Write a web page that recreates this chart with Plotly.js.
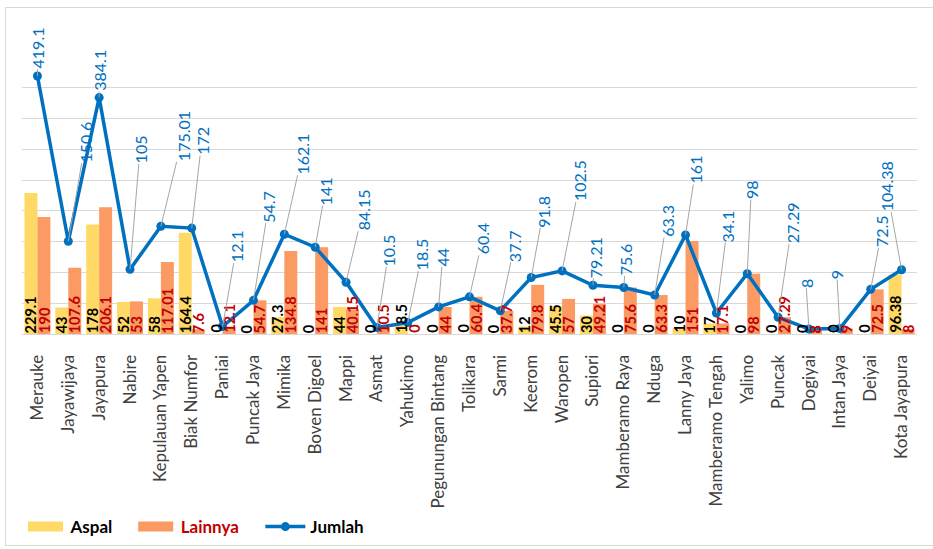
<!DOCTYPE html>
<html>
<head>
<meta charset="utf-8">
<script src="https://cdn.plot.ly/plotly-3.0.1.min.js"></script>
<style>
  html, body { margin: 0; padding: 0; background: #fff; }
  #wrap { position: relative; width: 933px; height: 549px; }
  #chart { position: absolute; left: 0; top: 0; width: 933px; height: 549px; }
  #frame { position: absolute; left: 5px; top: 7px; width: 935px; height: 537px; border: 1px solid #d9d9d9; pointer-events: none; }
</style>
</head>
<body>
<div id="wrap">
  <div id="chart"></div>
  <div id="frame"></div>
</div>
<script>
// ---- data ----
const categories = ["Merauke", "Jayawijaya", "Jayapura", "Nabire", "Kepulauan Yapen", "Biak Numfor",
  "Paniai", "Puncak Jaya", "Mimika", "Boven Digoel", "Mappi", "Asmat", "Yahukimo",
  "Pegunungan Bintang", "Tolikara", "Sarmi", "Keerom", "Waropen", "Supiori", "Mamberamo Raya",
  "Nduga", "Lanny Jaya", "Mamberamo Tengah", "Yalimo", "Puncak", "Dogiyai", "Intan Jaya",
  "Deiyai", "Kota Jayapura"];

const aspal = [229.1, 43, 178, 52, 58, 164.4, 0, 0, 27.3, 0, 44, 0, 18.5, 0, 0, 0, 12, 45.5,
  30, 0, 0, 10, 17, 0, 0, 0, 0, 0, 96.38];

const lainnya = [190, 107.6, 206.1, 53, 117.01, 7.6, 12.1, 54.7, 134.8, 141, 40.15, 10.5, 0,
  44, 60.4, 37.7, 79.8, 57, 49.21, 75.6, 63.3, 151, 17.1, 98, 27.29, 8, 9, 72.5, 8];

const jumlah = [419.1, 150.6, 384.1, 105, 175.01, 172, 12.1, 54.7, 162.1, 141, 84.15, 10.5,
  18.5, 44, 60.4, 37.7, 91.8, 102.5, 79.21, 75.6, 63.3, 161, 34.1, 98, 27.29, 8, 9, 72.5, 104.38];

const seriesNames = ["Aspal", "Lainnya", "Jumlah"];

// ---- label placement (pixel offsets of the Jumlah labels from their points) ----
const jumlahLabelOffset = [
  [0, -28], [17, -99], [0, -27], [10, -120], [22, -90], [10, -87], [14, -80], [15, -94],
  [18, -80], [10, -56], [17, -72], [12, -77], [14, -68], [4, -50], [13, -58], [14, -65],
  [12, -66], [18, -90], [2, -28], [2, -28], [12, -74], [10, -65], [11, -87], [4, -84],
  [14, -94], [-3, -46], [-3, -54], [11, -58], [-15, -83]
];

const FONT = "Lato, 'Open Sans', sans-serif";
const C_YELLOW = "#FFD966";
const C_ORANGE = "#FB9A63";
const C_BLUE = "#0070C0";
const C_RED = "#C00000";
const PAD3 = "\u00A0\u00A0\u00A0";
const PAD4 = "\u00A0\u00A0\u00A0\u00A0";

const traces = [
  { type: "bar", name: seriesNames[0] + PAD3, x: categories, y: aspal,
    marker: { color: C_YELLOW }, hoverinfo: "x+y" },
  { type: "bar", name: '<span style="color:' + C_RED + '">' + seriesNames[1] + '</span>' + PAD4, x: categories, y: lainnya,
    marker: { color: C_ORANGE }, hoverinfo: "x+y" },
  { type: "scatter", mode: "lines+markers", name: seriesNames[2], x: categories, y: jumlah,
    line: { color: C_BLUE, width: 3.5 }, marker: { color: C_BLUE, size: 9 } }
];

const annotations = [];
categories.forEach((c, i) => {
  annotations.push({
    x: c, y: 0, xref: "x", yref: "y", text: String(aspal[i]), showarrow: false,
    textangle: -90, yanchor: "bottom", xanchor: "center", xshift: -6.5, yshift: 0,
    font: { family: FONT, size: 14.5, color: "#000", weight: "bold" }, borderpad: 0
  });
  annotations.push({
    x: c, y: 0, xref: "x", yref: "y", text: String(lainnya[i]), showarrow: false,
    textangle: -90, yanchor: "bottom", xanchor: "center", xshift: 6.5, yshift: 0,
    font: { family: FONT, size: 14.5, color: C_RED, weight: "bold" }, borderpad: 0
  });
  annotations.push({
    x: c, y: jumlah[i], xref: "x", yref: "y", text: String(jumlah[i]),
    showarrow: true, arrowhead: 0, arrowwidth: 1, arrowcolor: "#A6A6A6",
    ax: jumlahLabelOffset[i][0], ay: jumlahLabelOffset[i][1], standoff: 0,
    textangle: -90, font: { family: FONT, size: 16, color: C_BLUE }, borderpad: 0
  });
});

const layout = {
  width: 933, height: 549,
  margin: { l: 22, r: 16, t: 57, b: 215 },
  paper_bgcolor: "#fff", plot_bgcolor: "#fff",
  barmode: "group", bargap: 0.16, bargroupgap: 0,
  font: { family: FONT, color: "#404040" },
  xaxis: {
    type: "category", range: [-0.5, categories.length - 0.5], autorange: false,
    tickangle: -90, ticks: "", showline: true, linecolor: "#d9d9d9",
    tickfont: { family: FONT, size: 17, color: "#404040" }, ticklabelstandoff: 13,
    showgrid: false
  },
  yaxis: {
    range: [0, 450], autorange: false, dtick: 50, showticklabels: false, gridcolor: "#d9d9d9",
    zeroline: false, ticks: ""
  },
  showlegend: true,
  legend: {
    orientation: "h", xref: "container", yref: "container",
    x: 0.022, xanchor: "left", y: 0.04, yanchor: "middle",
    font: { family: FONT, size: 17, color: "#000", weight: "bold" },
    itemwidth: 40, traceorder: "normal"
  },
  annotations: annotations
};

Plotly.newPlot("chart", traces, layout, { displayModeBar: false, staticPlot: true }).then(() => {
  document.querySelectorAll(".legend path").forEach(p => {
    const d = (p.getAttribute("d") || "").replace(/\s/g, "");
    if (d === "M6,6H-6V-6H6Z") p.setAttribute("d", "M17.5,5H-17.5V-5H17.5Z");
  });
});
</script>
</body>
</html>
